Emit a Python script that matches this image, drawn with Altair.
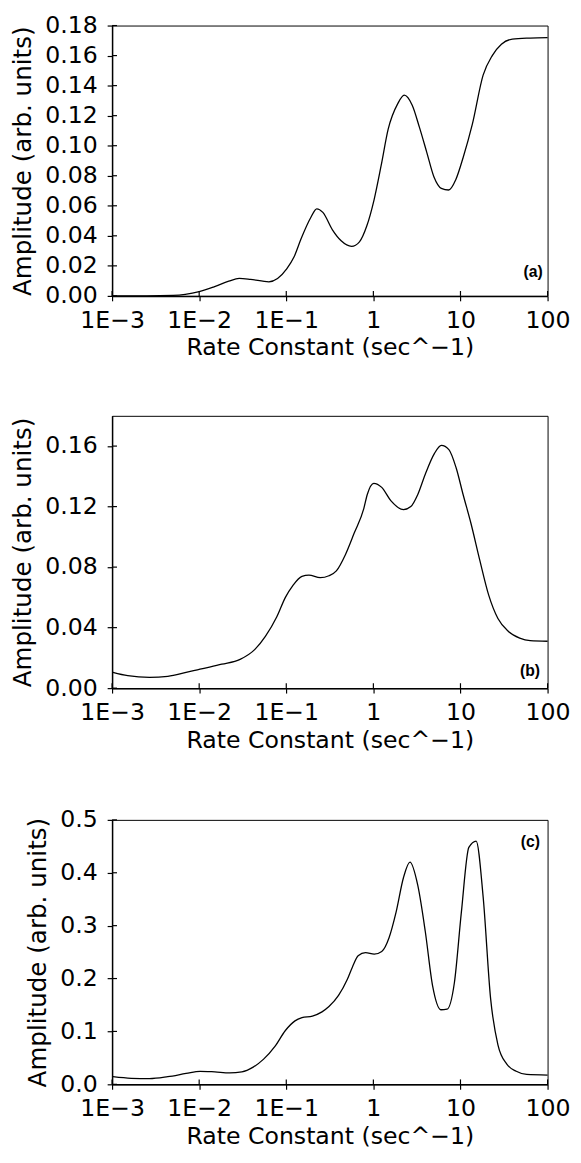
import altair as alt
import pandas as pd

# ---- data (log10 of rate constant, amplitude) ----
a_logk = [-3.0, -2.6, -2.3, -2.16, -2.0, -1.83, -1.66, -1.54, -1.41, -1.2, -1.1, -0.995, -0.91, -0.83,
          -0.72, -0.65, -0.58, -0.47, -0.37, -0.25, -0.16, -0.076, 0.008, 0.09, 0.17, 0.28, 0.354,
          0.446, 0.53, 0.613, 0.697, 0.78, 0.864, 0.947, 1.03, 1.135, 1.26, 1.365, 1.47, 1.595, 1.8, 2.0]
a_amp = [0.0, 0.0, 0.0003, 0.001, 0.0028, 0.006, 0.0098, 0.0116, 0.011, 0.0094, 0.0116, 0.018, 0.026, 0.038,
         0.052, 0.058, 0.0556, 0.044, 0.0367, 0.033, 0.036, 0.0465, 0.064, 0.087, 0.111, 0.128, 0.1337,
         0.127, 0.112, 0.0956, 0.079, 0.0716, 0.0705, 0.0775, 0.092, 0.114, 0.147, 0.16, 0.1676, 0.171, 0.1717, 0.172]

b_logk = [-2.99, -2.82, -2.57, -2.36, -2.15, -1.99, -1.74, -1.53, -1.36, -1.24, -1.11, -1.01, -0.925, -0.82,
          -0.74, -0.61, -0.51, -0.425, -0.32, -0.22, -0.11, -0.07, 0.004, 0.096, 0.2, 0.346, 0.43, 0.51,
          0.596, 0.7, 0.78, 0.867, 0.95, 1.03, 1.12, 1.22, 1.325, 1.43, 1.55, 1.68, 1.8, 2.0]
b_amp = [0.0104, 0.0082, 0.0071, 0.0078, 0.0104, 0.0126, 0.0158, 0.019, 0.0256, 0.0342, 0.047, 0.06, 0.0678, 0.0739,
         0.0747, 0.073, 0.0743, 0.0775, 0.0884, 0.1025, 0.1187, 0.128, 0.1354, 0.1327, 0.124, 0.118, 0.12, 0.128,
         0.1414, 0.155, 0.1605, 0.1577, 0.1457, 0.128, 0.109, 0.085, 0.0613, 0.046, 0.0375, 0.0331, 0.0314, 0.031]

c_logk = [-2.99, -2.78, -2.57, -2.36, -2.15, -1.99, -1.82, -1.65, -1.51, -1.38, -1.26, -1.13, -1.01, -0.9,
          -0.82, -0.7, -0.59, -0.51, -0.4, -0.3, -0.24, -0.175, -0.09, 0.01, 0.096, 0.18, 0.26, 0.346, 0.42,
          0.51, 0.596, 0.68, 0.775, 0.846, 0.93, 1.01, 1.096, 1.18, 1.26, 1.346, 1.43, 1.53, 1.64, 1.76, 2.0]
c_amp = [0.0145, 0.0114, 0.0108, 0.0145, 0.0205, 0.0247, 0.0235, 0.0217, 0.0235, 0.0325, 0.0476, 0.0717, 0.1018, 0.12,
         0.126, 0.129, 0.137, 0.147, 0.168, 0.198, 0.222, 0.243, 0.249, 0.246, 0.251, 0.277, 0.325, 0.391, 0.42,
         0.376, 0.289, 0.186, 0.141, 0.142, 0.192, 0.325, 0.448, 0.46, 0.355, 0.162, 0.0747, 0.0386, 0.0247, 0.0187, 0.0175]

x_ticks = [0.001, 0.01, 0.1, 1, 10, 100]
x_tick_labels = ["1E\u22123", "1E\u22122", "1E\u22121", "1", "10", "100"]

a_yticks = [0.0, 0.02, 0.04, 0.06, 0.08, 0.10, 0.12, 0.14, 0.16, 0.18]
b_yticks = [0.0, 0.04, 0.08, 0.12, 0.16]
c_yticks = [0.0, 0.1, 0.2, 0.3, 0.4, 0.5]

FONT = "DejaVu Sans"

label_expr = ""
for v, lab in zip(x_ticks[:-1], x_tick_labels[:-1]):
    label_expr += f"datum.value < {v * 3.0} ? '{lab}' : "
label_expr += f"'{x_tick_labels[-1]}'"

XSCALE = alt.Scale(type="log", domain=[0.001, 100], nice=False)


def panel(logk, amp, ymax, yticks, yfmt, tag, tag_k, tag_amp, height):
    yscale = alt.Scale(domain=[0, ymax], nice=False, zero=True)
    xaxis = alt.Axis(values=x_ticks, labelExpr=label_expr, labelFlush=False,
                     labelOverlap=False, title="Rate Constant (sec^\u22121)")
    yaxis = alt.Axis(values=yticks, format=yfmt, labelOverlap=False,
                     labelFlush=False, title="Amplitude (arb. units)")
    df = pd.DataFrame({"k": [10 ** v for v in logk], "amp": amp})
    line = alt.Chart(df).mark_line(color="black", strokeWidth=1.3,
                                   interpolate="monotone").encode(
        x=alt.X("k:Q", scale=XSCALE, axis=xaxis),
        y=alt.Y("amp:Q", scale=yscale, axis=yaxis))
    # inward halves of the crossing tick marks
    xt = alt.Chart(pd.DataFrame({"k": x_ticks})).mark_rule(color="black", strokeWidth=1.2).encode(
        x=alt.X("k:Q", scale=XSCALE, axis=xaxis), y=alt.value(height), y2=alt.value(height - 5))
    yt = alt.Chart(pd.DataFrame({"amp": yticks})).mark_rule(color="black", strokeWidth=1.2).encode(
        y=alt.Y("amp:Q", scale=yscale, axis=yaxis), x=alt.value(0), x2=alt.value(5))
    tdf = pd.DataFrame({"k": [tag_k], "amp": [tag_amp], "t": [tag]})
    txt = alt.Chart(tdf).mark_text(align="right", baseline="middle",
                                   font="Liberation Sans", fontWeight="bold",
                                   fontSize=16, color="black").encode(
        x=alt.X("k:Q", scale=XSCALE, axis=xaxis),
        y=alt.Y("amp:Q", scale=yscale, axis=yaxis), text="t:N")
    return alt.layer(line, xt, yt, txt).properties(width=443, height=height)


pa = panel(a_logk, a_amp, 0.18, a_yticks, ".2f", "(a)", 88, 0.016, 275)
pb = panel(b_logk, b_amp, 0.18, b_yticks, ".2f", "(b)", 82, 0.0115, 277)
pc = panel(c_logk, c_amp, 0.5, c_yticks, ".1f", "(c)", 82, 0.458, 269)

chart = alt.vconcat(pa, pb, pc, spacing=55).properties(
    padding={"left": 10, "top": 3, "right": 10, "bottom": 2}
).configure_axis(
    labelFont=FONT, titleFont=FONT, labelFontSize=24, titleFontSize=24,
    titleFontWeight="normal", labelColor="black", titleColor="black",
    domainColor="black", tickColor="black", domainWidth=1.5, tickWidth=1.2,
    tickSize=5, labelPadding=8, titlePadding=4, grid=False, labelOverlap=False
).configure_axisY(labelPadding=10, titlePadding=10, titleFontSize=25
).configure_view(stroke="black", strokeWidth=1)

chart.save("out.html", embed_options={"renderer": "svg", "actions": False})
